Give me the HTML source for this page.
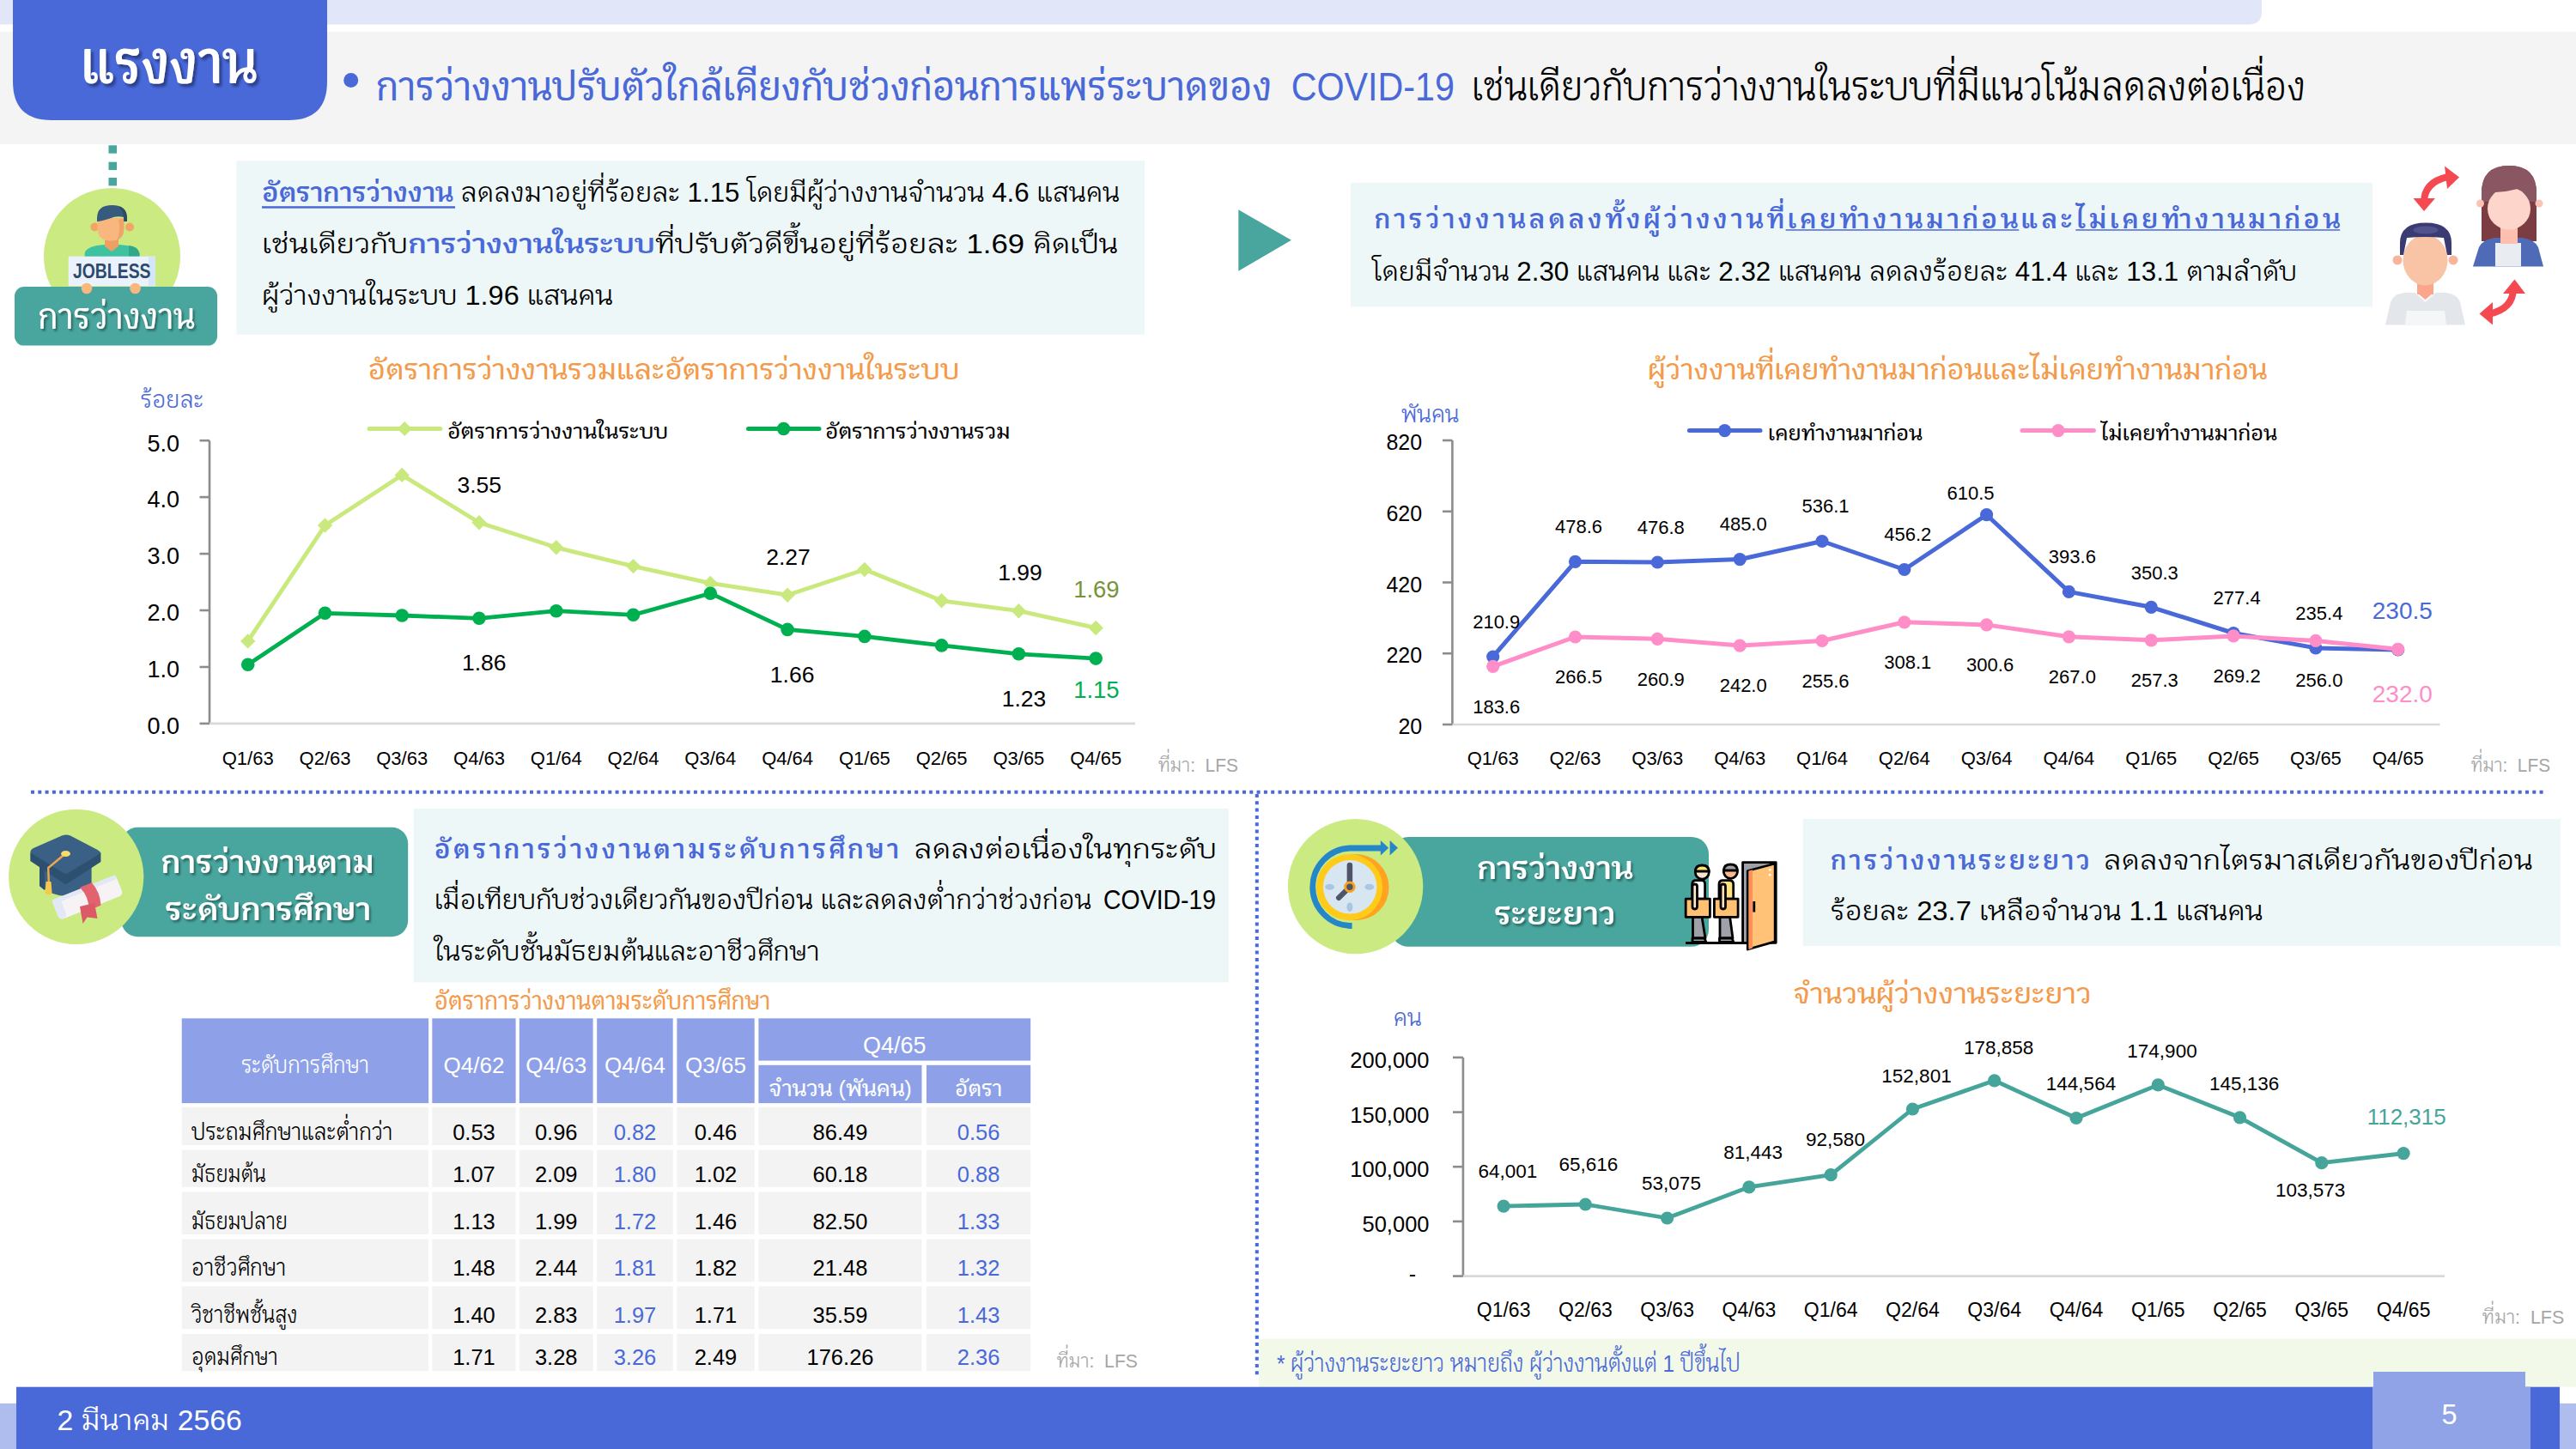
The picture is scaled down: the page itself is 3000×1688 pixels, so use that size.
<!DOCTYPE html>
<html lang="th"><head><meta charset="utf-8"><title>แรงงาน</title>
<style>
html,body{margin:0;padding:0;background:#fff;}
body{width:3000px;height:1688px;overflow:hidden;}
svg{display:block;font-family:'Liberation Sans','Krub',sans-serif;}
</style></head><body>
<svg width="3000" height="1688" viewBox="0 0 3000 1688">
<defs>
<filter id="sh" x="-10%" y="-30%" width="130%" height="160%"><feDropShadow dx="2" dy="2.5" stdDeviation="1.3" flood-color="#0E2F2C" flood-opacity="0.55"/></filter>
<filter id="shT" x="-10%" y="-30%" width="130%" height="160%"><feDropShadow dx="3" dy="3.5" stdDeviation="1.6" flood-color="#101C50" flood-opacity="0.6"/></filter>
</defs>
<rect width="3000" height="1688" fill="#fff"/>
<path d="M0 0 H2634 V13.6 Q2634 28.6 2619 28.6 H0 Z" fill="#E1E7F8"/>
<rect x="0.0" y="37.0" width="3000.0" height="131.0" fill="#F4F4F4" />
<path d="M15 0 H381 V95 Q381 140 336 140 H60 Q15 140 15 95 Z" fill="#4A69D9"/>
<text x="94.0" y="97.0" font-size="70" fill="#fff" textLength="205.0" lengthAdjust="spacingAndGlyphs" font-weight="600" filter="url(#shT)">แรงงาน</text>
<circle cx="408.7" cy="93.5" r="8.5" fill="#4A69D9" />
<text x="437.8" y="117.0" font-size="46" fill="#4A69D9" textLength="1043.2" lengthAdjust="spacingAndGlyphs" font-weight="500" >การว่างงานปรับตัวใกล้เคียงกับช่วงก่อนการแพร่ระบาดของ</text>
<text x="1503.7" y="117.0" font-size="45.5" fill="#4A69D9" textLength="190.3" lengthAdjust="spacingAndGlyphs" >COVID-19</text>
<text x="1713.7" y="117.0" font-size="46" fill="#000" textLength="971.3" lengthAdjust="spacingAndGlyphs" >เช่นเดียวกับการว่างงานในระบบที่มีแนวโน้มลดลงต่อเนื่อง</text>
<rect x="126.5" y="169.3" width="9.5" height="9.4" fill="#48A69E" />
<rect x="126.5" y="188.7" width="9.5" height="9.4" fill="#48A69E" />
<rect x="126.5" y="207.0" width="9.5" height="9.4" fill="#48A69E" />
<circle cx="130.5" cy="298.4" r="79.5" fill="#CBEB82" />
<rect x="275.4" y="187.3" width="1057.6" height="202.4" fill="#EEF7F8" />
<rect x="17.0" y="334.0" width="236.0" height="68.6" fill="#48A69E" rx="11" />
<text x="44.0" y="383.4" font-size="41.5" fill="#fff" textLength="183.0" lengthAdjust="spacingAndGlyphs" font-weight="500" filter="url(#sh)">การว่างงาน</text>
<g>
<path d="M98.7 300 L98.7 295 Q100 285 130.5 284.7 Q161 285 162.4 295 L162.4 300 Z" fill="#3EC2A0"/>
<path d="M150 286 Q161 287 162.4 295 L162.4 300 L150 300 Z" fill="#2FA98A"/>
<path d="M122 276 L138 276 L138 287 L130 293 L122 287 Z" fill="#EE9F63"/>
<circle cx="110.3" cy="264.5" r="5" fill="#F3A466"/>
<circle cx="151" cy="264.5" r="5" fill="#F3A466"/>
<path d="M113.4 254 L113.4 266 Q113.4 280.6 129 280.6 Q144.4 280.6 144.4 266 L144.4 254 Z" fill="#F7B77E"/>
<path d="M138 256 L144.4 254 L144.4 266 Q144.4 277 136 280 Q141 270 138 256 Z" fill="#EFA46C"/>
<path d="M113 258 L113 254 Q113 239 130.5 239 Q148 239 148 254 L148 258 L144.5 258 L144 253 Q136 251 128 254.5 Q120 257 114.5 258 Z" fill="#365B7C"/>
<path d="M139 240.5 Q148 244 148 254 L148 258 L144.5 258 L144 252 Q143 245 139 242 Z" fill="#2C4B68"/>
<rect x="79.8" y="298.7" width="100.9" height="34.5" fill="#EAF2FD"/>
<rect x="173" y="298.7" width="7.7" height="34.5" fill="#D6E6FA"/>
<circle cx="101" cy="336" r="6.3" fill="#F7B77E"/>
<circle cx="157.5" cy="336" r="6.3" fill="#F7B77E"/>
</g>
<text x="85.0" y="324.0" font-size="23" fill="#2E4A6B" textLength="90.5" lengthAdjust="spacingAndGlyphs" font-weight="700" >JOBLESS</text>
<text x="305.0" y="235.0" font-size="31" fill="#000" textLength="999.0" lengthAdjust="spacingAndGlyphs" ><tspan fill="#4A69D9" font-weight="600">อัตราการว่างงาน</tspan><tspan> ลดลงมาอยู่ที่ร้อยละ 1.15 โดยมีผู้ว่างงานจำนวน 4.6 แสนคน</tspan></text>
<rect x="305.0" y="240.2" width="225.0" height="2.5" fill="#4A69D9" />
<text x="305.0" y="294.8" font-size="31" fill="#000" textLength="997.0" lengthAdjust="spacingAndGlyphs" >เช่นเดียวกับ<tspan fill="#4A69D9" font-weight="600">การว่างงานในระบบ</tspan>ที่ปรับตัวดีขึ้นอยู่ที่ร้อยละ 1.69 คิดเป็น</text>
<text x="305.0" y="355.0" font-size="31" fill="#000" textLength="409.0" lengthAdjust="spacingAndGlyphs" >ผู้ว่างงานในระบบ 1.96 แสนคน</text>
<path d="M1442.3 244.3 L1503.9 279.7 L1442.3 315.8 Z" fill="#48A69E"/>
<rect x="1573.0" y="212.7" width="1190.0" height="144.6" fill="#EEF7F8" />
<text x="1600.5" y="265.7" font-size="30" fill="#4A69D9" textLength="1124.5" lengthAdjust="spacing" font-weight="600" >การว่างงานลดลงทั้งผู้ว่างงานที่เคยทำงานมาก่อนและไม่เคยทำงานมาก่อน</text>
<rect x="2079.6" y="267.2" width="271.7" height="1.5" fill="#4A69D9" />
<rect x="2417.3" y="267.2" width="307.9" height="1.5" fill="#4A69D9" />
<text x="1598.6" y="326.8" font-size="31" fill="#000" textLength="1076.4" lengthAdjust="spacingAndGlyphs" >โดยมีจำนวน 2.30 แสนคน และ 2.32 แสนคน ลดลงร้อยละ 41.4 และ 13.1 ตามลำดับ</text>
<g>
<path d="M2778 378.5 L2784 352 Q2787 343 2800 341 L2849 341 Q2862 343 2865 352 L2871 378.5 Z" fill="#E3E7EC"/>
<path d="M2801 378.5 L2803 362 L2847 362 L2849 378.5 Z" fill="#F4F6F8"/>
<path d="M2812 341 L2824.5 352 L2837 341 Z" fill="#F7F8FA"/>
<rect x="2815" y="326" width="19" height="17" fill="#FBA68C"/>
<path d="M2815 341 L2824.5 349 L2834 341 Z" fill="#FBA68C"/>
<circle cx="2792" cy="303" r="5.5" fill="#F9B49C"/>
<circle cx="2857" cy="303" r="5.5" fill="#F9B49C"/>
<ellipse cx="2824.5" cy="303" rx="26" ry="29.5" fill="#F9C3A6"/>
<path d="M2795 297 L2795 283 Q2795 259.4 2825 259.4 Q2855 259.4 2855 283 L2855 297 L2850 297 L2846 277 Q2824.5 275 2803 277 L2799 297 Z" fill="#3B3B73"/>
<ellipse cx="2825" cy="268" rx="14.5" ry="4.5" fill="#52528C"/>
<path d="M2890 281 L2890 225 Q2890 193 2922 193 Q2954 193 2954 225 L2954 281 Z" fill="#7B3C42"/>
<path d="M2890 235 L2890 225 Q2890 193 2922 193 Q2954 193 2954 225 L2954 235 Z" fill="#8A5661"/>
<path d="M2880 310.4 L2887 288 Q2890 280 2905 277 L2938 277 Q2953 280 2956 288 L2962 310.4 Z" fill="#4F6BB8"/>
<path d="M2906 310.4 L2906 283 L2936 283 L2936 310.4 Z" fill="#E9EDF1"/>
<rect x="2912" y="262" width="20" height="22" fill="#FDBFB0"/>
<circle cx="2888.5" cy="237" r="4.5" fill="#FCC3B5"/>
<circle cx="2957" cy="237" r="4.5" fill="#FCC3B5"/>
<ellipse cx="2922" cy="243" rx="25" ry="24.5" fill="#FDD5CA"/>
<path d="M2895 225 Q2896 200 2922 199 Q2948 200 2950 222 L2945 218 Q2930 220 2918 223 Q2905 224 2895 225 Z" fill="#8A5661"/>
<g fill="none" stroke="#F54952" stroke-width="8" stroke-linecap="round">
<path d="M2823 236 Q2823 212 2851 206"/>
<path d="M2927 336 Q2927 360 2898 366"/>
</g>
<path d="M2810.5 231 L2836 231 L2823 246 Z" fill="#F54952"/>
<path d="M2847 193.5 L2864 206.5 L2850 220 Z" fill="#F54952"/>
<path d="M2915 342 L2941 342 L2928.5 325.5 Z" fill="#F54952"/>
<path d="M2903 352 L2887.5 365.5 L2903 378.5 Z" fill="#F54952"/>
</g>
<text x="428.5" y="441.6" font-size="32" fill="#F39A4B" textLength="689.0" lengthAdjust="spacingAndGlyphs" font-weight="500" >อัตราการว่างงานรวมและอัตราการว่างงานในระบบ</text>
<text x="163.5" y="475.0" font-size="27" fill="#4A69D9" textLength="73.5" lengthAdjust="spacingAndGlyphs" >ร้อยละ</text>
<line x1="244" y1="513.2" x2="244" y2="842.9" stroke="#8C8C8C" stroke-width="2.6"/>
<line x1="244" y1="842.9" x2="1322" y2="842.9" stroke="#D9D9D9" stroke-width="2.6"/>
<line x1="232.5" y1="513.2" x2="244" y2="513.2" stroke="#8C8C8C" stroke-width="2.6"/>
<text x="209.0" y="525.5" font-size="27" fill="#000" text-anchor="end" >5.0</text>
<line x1="232.5" y1="579.1" x2="244" y2="579.1" stroke="#8C8C8C" stroke-width="2.6"/>
<text x="209.0" y="591.4" font-size="27" fill="#000" text-anchor="end" >4.0</text>
<line x1="232.5" y1="645.1" x2="244" y2="645.1" stroke="#8C8C8C" stroke-width="2.6"/>
<text x="209.0" y="657.4" font-size="27" fill="#000" text-anchor="end" >3.0</text>
<line x1="232.5" y1="711.0" x2="244" y2="711.0" stroke="#8C8C8C" stroke-width="2.6"/>
<text x="209.0" y="723.3" font-size="27" fill="#000" text-anchor="end" >2.0</text>
<line x1="232.5" y1="777.0" x2="244" y2="777.0" stroke="#8C8C8C" stroke-width="2.6"/>
<text x="209.0" y="789.3" font-size="27" fill="#000" text-anchor="end" >1.0</text>
<line x1="232.5" y1="842.9" x2="244" y2="842.9" stroke="#8C8C8C" stroke-width="2.6"/>
<text x="209.0" y="855.2" font-size="27" fill="#000" text-anchor="end" >0.0</text>
<text x="288.7" y="891.0" font-size="22" fill="#000" text-anchor="middle" >Q1/63</text>
<text x="378.5" y="891.0" font-size="22" fill="#000" text-anchor="middle" >Q2/63</text>
<text x="468.2" y="891.0" font-size="22" fill="#000" text-anchor="middle" >Q3/63</text>
<text x="558.0" y="891.0" font-size="22" fill="#000" text-anchor="middle" >Q4/63</text>
<text x="647.8" y="891.0" font-size="22" fill="#000" text-anchor="middle" >Q1/64</text>
<text x="737.5" y="891.0" font-size="22" fill="#000" text-anchor="middle" >Q2/64</text>
<text x="827.3" y="891.0" font-size="22" fill="#000" text-anchor="middle" >Q3/64</text>
<text x="917.1" y="891.0" font-size="22" fill="#000" text-anchor="middle" >Q4/64</text>
<text x="1006.9" y="891.0" font-size="22" fill="#000" text-anchor="middle" >Q1/65</text>
<text x="1096.6" y="891.0" font-size="22" fill="#000" text-anchor="middle" >Q2/65</text>
<text x="1186.4" y="891.0" font-size="22" fill="#000" text-anchor="middle" >Q3/65</text>
<text x="1276.2" y="891.0" font-size="22" fill="#000" text-anchor="middle" >Q4/65</text>
<polyline points="288.7,746.9 378.5,612.1 468.2,553.4 558.0,608.8 647.8,637.8 737.5,659.6 827.3,679.4 917.1,693.2 1006.9,663.5 1096.6,699.8 1186.4,711.7 1276.2,731.5" fill="none" stroke="#C9E97C" stroke-width="4.8" stroke-linejoin="round"/>
<path d="M288.7 738.2 L297.4 746.9 L288.7 755.6 L280.0 746.9 Z" fill="#C9E97C"/>
<path d="M378.5 603.4 L387.2 612.1 L378.5 620.8 L369.8 612.1 Z" fill="#C9E97C"/>
<path d="M468.2 544.7 L476.9 553.4 L468.2 562.1 L459.5 553.4 Z" fill="#C9E97C"/>
<path d="M558.0 600.1 L566.7 608.8 L558.0 617.5 L549.3 608.8 Z" fill="#C9E97C"/>
<path d="M647.8 629.1 L656.5 637.8 L647.8 646.5 L639.1 637.8 Z" fill="#C9E97C"/>
<path d="M737.5 650.9 L746.2 659.6 L737.5 668.3 L728.8 659.6 Z" fill="#C9E97C"/>
<path d="M827.3 670.7 L836.0 679.4 L827.3 688.1 L818.6 679.4 Z" fill="#C9E97C"/>
<path d="M917.1 684.5 L925.8 693.2 L917.1 701.9 L908.4 693.2 Z" fill="#C9E97C"/>
<path d="M1006.9 654.8 L1015.6 663.5 L1006.9 672.2 L998.2 663.5 Z" fill="#C9E97C"/>
<path d="M1096.6 691.1 L1105.3 699.8 L1096.6 708.5 L1087.9 699.8 Z" fill="#C9E97C"/>
<path d="M1186.4 703.0 L1195.1 711.7 L1186.4 720.4 L1177.7 711.7 Z" fill="#C9E97C"/>
<path d="M1276.2 722.8 L1284.9 731.5 L1276.2 740.2 L1267.5 731.5 Z" fill="#C9E97C"/>
<polyline points="288.7,774.3 378.5,714.3 468.2,717.0 558.0,720.3 647.8,711.7 737.5,716.3 827.3,691.2 917.1,733.4 1006.9,741.4 1096.6,751.9 1186.4,761.8 1276.2,767.1" fill="none" stroke="#00B050" stroke-width="4.8" stroke-linejoin="round"/>
<circle cx="288.7" cy="774.3" r="7.8" fill="#00B050" />
<circle cx="378.5" cy="714.3" r="7.8" fill="#00B050" />
<circle cx="468.2" cy="717.0" r="7.8" fill="#00B050" />
<circle cx="558.0" cy="720.3" r="7.8" fill="#00B050" />
<circle cx="647.8" cy="711.7" r="7.8" fill="#00B050" />
<circle cx="737.5" cy="716.3" r="7.8" fill="#00B050" />
<circle cx="827.3" cy="691.2" r="7.8" fill="#00B050" />
<circle cx="917.1" cy="733.4" r="7.8" fill="#00B050" />
<circle cx="1006.9" cy="741.4" r="7.8" fill="#00B050" />
<circle cx="1096.6" cy="751.9" r="7.8" fill="#00B050" />
<circle cx="1186.4" cy="761.8" r="7.8" fill="#00B050" />
<circle cx="1276.2" cy="767.1" r="7.8" fill="#00B050" />
<line x1="430" y1="499.5" x2="512.9" y2="499.5" stroke="#C9E97C" stroke-width="5" stroke-linecap="round"/>
<path d="M471.2 491 L479.7 499.5 L471.2 508 L462.7 499.5 Z" fill="#C9E97C"/>
<text x="521.0" y="510.6" font-size="24" fill="#000" textLength="257.0" lengthAdjust="spacingAndGlyphs" font-weight="500" >อัตราการว่างงานในระบบ</text>
<line x1="871.5" y1="499.5" x2="954" y2="499.5" stroke="#00B050" stroke-width="5" stroke-linecap="round"/>
<circle cx="912.6" cy="499.5" r="7.8" fill="#00B050" />
<text x="961.0" y="510.6" font-size="24" fill="#000" textLength="215.5" lengthAdjust="spacingAndGlyphs" font-weight="500" >อัตราการว่างงานรวม</text>
<text x="558.3" y="574.0" font-size="26.5" fill="#000" text-anchor="middle" >3.55</text>
<text x="563.7" y="781.0" font-size="26.5" fill="#000" text-anchor="middle" >1.86</text>
<text x="918.0" y="657.6" font-size="26.5" fill="#000" text-anchor="middle" >2.27</text>
<text x="922.6" y="794.7" font-size="26.5" fill="#000" text-anchor="middle" >1.66</text>
<text x="1188.0" y="676.0" font-size="26.5" fill="#000" text-anchor="middle" >1.99</text>
<text x="1192.5" y="823.4" font-size="26.5" fill="#000" text-anchor="middle" >1.23</text>
<text x="1276.9" y="696.2" font-size="27.5" fill="#77933C" text-anchor="middle" >1.69</text>
<text x="1276.9" y="813.0" font-size="27.5" fill="#00B050" text-anchor="middle" >1.15</text>
<text x="1348.7" y="898.7" font-size="22.5" fill="#A6A6A6" textLength="93.3" lengthAdjust="spacingAndGlyphs" >ที่มา:&#160; LFS</text>
<text x="1919.0" y="441.6" font-size="32" fill="#F39A4B" textLength="721.5" lengthAdjust="spacingAndGlyphs" font-weight="500" >ผู้ว่างงานที่เคยทำงานมาก่อนและไม่เคยทำงานมาก่อน</text>
<text x="1631.8" y="491.5" font-size="27" fill="#4A69D9" textLength="67.5" lengthAdjust="spacingAndGlyphs" >พันคน</text>
<line x1="1691.4" y1="513" x2="1691.4" y2="844" stroke="#8C8C8C" stroke-width="2.6"/>
<line x1="1691.4" y1="844" x2="2841.5" y2="844" stroke="#D9D9D9" stroke-width="2.6"/>
<line x1="1680" y1="513.0" x2="1691.4" y2="513.0" stroke="#8C8C8C" stroke-width="2.6"/>
<text x="1656.2" y="524.0" font-size="25" fill="#000" text-anchor="end" >820</text>
<line x1="1680" y1="595.8" x2="1691.4" y2="595.8" stroke="#8C8C8C" stroke-width="2.6"/>
<text x="1656.2" y="606.8" font-size="25" fill="#000" text-anchor="end" >620</text>
<line x1="1680" y1="678.5" x2="1691.4" y2="678.5" stroke="#8C8C8C" stroke-width="2.6"/>
<text x="1656.2" y="689.5" font-size="25" fill="#000" text-anchor="end" >420</text>
<line x1="1680" y1="761.2" x2="1691.4" y2="761.2" stroke="#8C8C8C" stroke-width="2.6"/>
<text x="1656.2" y="772.2" font-size="25" fill="#000" text-anchor="end" >220</text>
<line x1="1680" y1="844.0" x2="1691.4" y2="844.0" stroke="#8C8C8C" stroke-width="2.6"/>
<text x="1656.2" y="855.0" font-size="25" fill="#000" text-anchor="end" >20</text>
<text x="1738.7" y="890.5" font-size="22" fill="#000" text-anchor="middle" >Q1/63</text>
<text x="1834.5" y="890.5" font-size="22" fill="#000" text-anchor="middle" >Q2/63</text>
<text x="1930.3" y="890.5" font-size="22" fill="#000" text-anchor="middle" >Q3/63</text>
<text x="2026.2" y="890.5" font-size="22" fill="#000" text-anchor="middle" >Q4/63</text>
<text x="2122.0" y="890.5" font-size="22" fill="#000" text-anchor="middle" >Q1/64</text>
<text x="2217.8" y="890.5" font-size="22" fill="#000" text-anchor="middle" >Q2/64</text>
<text x="2313.6" y="890.5" font-size="22" fill="#000" text-anchor="middle" >Q3/64</text>
<text x="2409.4" y="890.5" font-size="22" fill="#000" text-anchor="middle" >Q4/64</text>
<text x="2505.3" y="890.5" font-size="22" fill="#000" text-anchor="middle" >Q1/65</text>
<text x="2601.1" y="890.5" font-size="22" fill="#000" text-anchor="middle" >Q2/65</text>
<text x="2696.9" y="890.5" font-size="22" fill="#000" text-anchor="middle" >Q3/65</text>
<text x="2792.7" y="890.5" font-size="22" fill="#000" text-anchor="middle" >Q4/65</text>
<polyline points="1738.7,765.0 1834.5,654.3 1930.3,655.0 2026.2,651.6 2122.0,630.5 2217.8,663.5 2313.6,599.7 2409.4,689.4 2505.3,707.3 2601.1,737.5 2696.9,754.9 2792.7,756.9" fill="none" stroke="#4A69D9" stroke-width="5" stroke-linejoin="round"/>
<circle cx="1738.7" cy="765.0" r="7.6" fill="#4A69D9" />
<circle cx="1834.5" cy="654.3" r="7.6" fill="#4A69D9" />
<circle cx="1930.3" cy="655.0" r="7.6" fill="#4A69D9" />
<circle cx="2026.2" cy="651.6" r="7.6" fill="#4A69D9" />
<circle cx="2122.0" cy="630.5" r="7.6" fill="#4A69D9" />
<circle cx="2217.8" cy="663.5" r="7.6" fill="#4A69D9" />
<circle cx="2313.6" cy="599.7" r="7.6" fill="#4A69D9" />
<circle cx="2409.4" cy="689.4" r="7.6" fill="#4A69D9" />
<circle cx="2505.3" cy="707.3" r="7.6" fill="#4A69D9" />
<circle cx="2601.1" cy="737.5" r="7.6" fill="#4A69D9" />
<circle cx="2696.9" cy="754.9" r="7.6" fill="#4A69D9" />
<circle cx="2792.7" cy="756.9" r="7.6" fill="#4A69D9" />
<polyline points="1738.7,776.3 1834.5,742.0 1930.3,744.3 2026.2,752.1 2122.0,746.5 2217.8,724.8 2313.6,727.9 2409.4,741.8 2505.3,745.8 2601.1,740.9 2696.9,746.4 2792.7,756.3" fill="none" stroke="#FF8DC8" stroke-width="5" stroke-linejoin="round"/>
<circle cx="1738.7" cy="776.3" r="7.6" fill="#FF8DC8" />
<circle cx="1834.5" cy="742.0" r="7.6" fill="#FF8DC8" />
<circle cx="1930.3" cy="744.3" r="7.6" fill="#FF8DC8" />
<circle cx="2026.2" cy="752.1" r="7.6" fill="#FF8DC8" />
<circle cx="2122.0" cy="746.5" r="7.6" fill="#FF8DC8" />
<circle cx="2217.8" cy="724.8" r="7.6" fill="#FF8DC8" />
<circle cx="2313.6" cy="727.9" r="7.6" fill="#FF8DC8" />
<circle cx="2409.4" cy="741.8" r="7.6" fill="#FF8DC8" />
<circle cx="2505.3" cy="745.8" r="7.6" fill="#FF8DC8" />
<circle cx="2601.1" cy="740.9" r="7.6" fill="#FF8DC8" />
<circle cx="2696.9" cy="746.4" r="7.6" fill="#FF8DC8" />
<circle cx="2792.7" cy="756.3" r="7.6" fill="#FF8DC8" />
<line x1="1967.4" y1="501.6" x2="2050" y2="501.6" stroke="#4A69D9" stroke-width="5" stroke-linecap="round"/>
<circle cx="2008.6" cy="501.6" r="7.6" fill="#4A69D9" />
<text x="2059.0" y="512.5" font-size="24" fill="#000" textLength="180.0" lengthAdjust="spacingAndGlyphs" font-weight="500" >เคยทำงานมาก่อน</text>
<line x1="2355" y1="501.6" x2="2438.4" y2="501.6" stroke="#FF8DC8" stroke-width="5" stroke-linecap="round"/>
<circle cx="2397.0" cy="501.6" r="7.6" fill="#FF8DC8" />
<text x="2446.6" y="512.5" font-size="24" fill="#000" textLength="205.4" lengthAdjust="spacingAndGlyphs" font-weight="500" >ไม่เคยทำงานมาก่อน</text>
<text x="1742.7" y="732.0" font-size="22" fill="#000" text-anchor="middle" >210.9</text>
<text x="1838.5" y="620.7" font-size="22" fill="#000" text-anchor="middle" >478.6</text>
<text x="1934.3" y="621.8" font-size="22" fill="#000" text-anchor="middle" >476.8</text>
<text x="2030.2" y="617.5" font-size="22" fill="#000" text-anchor="middle" >485.0</text>
<text x="2126.0" y="596.7" font-size="22" fill="#000" text-anchor="middle" >536.1</text>
<text x="2221.8" y="629.7" font-size="22" fill="#000" text-anchor="middle" >456.2</text>
<text x="2295.0" y="582.3" font-size="22" fill="#000" text-anchor="middle" >610.5</text>
<text x="2413.4" y="655.6" font-size="22" fill="#000" text-anchor="middle" >393.6</text>
<text x="2509.3" y="674.6" font-size="22" fill="#000" text-anchor="middle" >350.3</text>
<text x="2605.1" y="704.0" font-size="22" fill="#000" text-anchor="middle" >277.4</text>
<text x="2700.9" y="722.0" font-size="22" fill="#000" text-anchor="middle" >235.4</text>
<text x="1742.7" y="830.7" font-size="22" fill="#000" text-anchor="middle" >183.6</text>
<text x="1838.5" y="796.0" font-size="22" fill="#000" text-anchor="middle" >266.5</text>
<text x="1934.3" y="799.0" font-size="22" fill="#000" text-anchor="middle" >260.9</text>
<text x="2030.2" y="805.6" font-size="22" fill="#000" text-anchor="middle" >242.0</text>
<text x="2126.0" y="801.0" font-size="22" fill="#000" text-anchor="middle" >255.6</text>
<text x="2221.8" y="778.7" font-size="22" fill="#000" text-anchor="middle" >308.1</text>
<text x="2317.6" y="782.3" font-size="22" fill="#000" text-anchor="middle" >300.6</text>
<text x="2413.4" y="796.0" font-size="22" fill="#000" text-anchor="middle" >267.0</text>
<text x="2509.3" y="799.5" font-size="22" fill="#000" text-anchor="middle" >257.3</text>
<text x="2605.1" y="794.8" font-size="22" fill="#000" text-anchor="middle" >269.2</text>
<text x="2700.9" y="800.2" font-size="22" fill="#000" text-anchor="middle" >256.0</text>
<text x="2797.8" y="721.0" font-size="28" fill="#4A69D9" text-anchor="middle" >230.5</text>
<text x="2797.8" y="818.3" font-size="28" fill="#FF8DC8" text-anchor="middle" >232.0</text>
<text x="2877.4" y="899.0" font-size="22.5" fill="#A6A6A6" textLength="92.6" lengthAdjust="spacingAndGlyphs" >ที่มา:&#160; LFS</text>
<line x1="36" y1="922.7" x2="2965" y2="922.7" stroke="#4A69D9" stroke-width="4" stroke-dasharray="4 4.3"/>
<line x1="1463.8" y1="925" x2="1463.8" y2="1602.5" stroke="#4A69D9" stroke-width="4" stroke-dasharray="4 4.3"/>
<rect x="141.3" y="963.7" width="333.9" height="127.5" fill="#48A69E" rx="19" />
<circle cx="88.7" cy="1021.4" r="78.6" fill="#CBEB82" />
<g>
<path d="M46 1006 L46 1032 Q60 1043 76.5 1044 Q95 1043 106.6 1036 L106.6 1006 Z" fill="#3A6185"/>
<path d="M46 1006 L46 1032 Q49 1035 52 1037 L52 1010 Z" fill="#2E5070"/>
<path d="M35.3 993.5 L35.3 1003 L76.5 1030.5 L117.4 1004 L117.4 993.7 Z" fill="#2E5070"/>
<path d="M35.3 993.2 Q35.3 990 39 988 L72 973.5 Q77 971.5 82 973.5 L113.5 990 Q117.4 992.5 117.4 994 L80 1016.5 Q76.5 1019 73 1016.5 Z" fill="#3A6185"/>
<path d="M75.5 995 L56.2 1011 L56.8 1028" fill="none" stroke="#EFA74A" stroke-width="2.4" stroke-linejoin="round"/>
<ellipse cx="76.5" cy="994.5" rx="5.4" ry="3.6" fill="#F6DC6A"/>
<path d="M53.5 1027 L59.5 1027 L60.5 1040 Q56.5 1045 52.5 1040 Z" fill="#F7C94A"/>
<g transform="rotate(-21.7 101.7 1045.7)">
<rect x="62" y="1033.2" width="80" height="25" rx="5" fill="#F7F3F5"/>
<rect x="62" y="1033.2" width="80" height="5" rx="2.5" fill="#E3E8F6"/>
<rect x="62" y="1033.2" width="10" height="25" rx="5" fill="#E3E8F6"/>
<path d="M98 1031.5 Q104 1045.7 98 1060 L113 1060 Q118 1045.7 113 1031.5 Z" fill="#E0636F"/>
</g>
<path d="M93 1056 L96.5 1076 L101.5 1068.5 L113.5 1070 L110 1052 Z" fill="#DC5A68"/>
</g>
<text x="187.3" y="1017.4" font-size="35" fill="#fff" textLength="248.5" lengthAdjust="spacingAndGlyphs" font-weight="600" filter="url(#sh)">การว่างงานตาม</text>
<text x="192.0" y="1071.8" font-size="35" fill="#fff" textLength="240.0" lengthAdjust="spacingAndGlyphs" font-weight="600" filter="url(#sh)">ระดับการศึกษา</text>
<rect x="481.6" y="942.0" width="949.2" height="202.4" fill="#EEF7F8" />
<text x="505.7" y="999.6" font-size="30" fill="#4A69D9" textLength="541.0" lengthAdjust="spacing" font-weight="600" >อัตราการว่างงานตามระดับการศึกษา</text>
<text x="1064.0" y="999.6" font-size="31" fill="#000" textLength="353.0" lengthAdjust="spacingAndGlyphs" >ลดลงต่อเนื่องในทุกระดับ</text>
<text x="505.7" y="1059.3" font-size="31" fill="#000" textLength="765.4" lengthAdjust="spacingAndGlyphs" >เมื่อเทียบกับช่วงเดียวกันของปีก่อน และลดลงต่ำกว่าช่วงก่อน</text>
<text x="1285.1" y="1059.3" font-size="31" fill="#000" textLength="131.0" lengthAdjust="spacingAndGlyphs" >COVID-19</text>
<text x="505.7" y="1118.8" font-size="31" fill="#000" textLength="448.8" lengthAdjust="spacingAndGlyphs" >ในระดับชั้นมัธยมต้นและอาชีวศึกษา</text>
<text x="505.7" y="1176.0" font-size="29" fill="#F39A4B" textLength="391.3" lengthAdjust="spacingAndGlyphs" font-weight="500" >อัตราการว่างงานตามระดับการศึกษา</text>
<rect x="211.7" y="1186.3" width="287.4" height="98.8" fill="#8EA1E8" />
<rect x="503.3" y="1186.3" width="97.3" height="98.8" fill="#8EA1E8" />
<rect x="604.8" y="1186.3" width="85.8" height="98.8" fill="#8EA1E8" />
<rect x="695.2" y="1186.3" width="88.5" height="98.8" fill="#8EA1E8" />
<rect x="788.4" y="1186.3" width="90.3" height="98.8" fill="#8EA1E8" />
<rect x="883.4" y="1186.3" width="316.8" height="49.3" fill="#8EA1E8" />
<rect x="883.4" y="1240.8" width="190.1" height="44.3" fill="#8EA1E8" />
<rect x="1079.0" y="1240.8" width="121.2" height="44.3" fill="#8EA1E8" />
<text x="355.4" y="1250.0" font-size="27" fill="#fff" textLength="149.0" lengthAdjust="spacingAndGlyphs" text-anchor="middle" >ระดับการศึกษา</text>
<text x="552.0" y="1250.0" font-size="26" fill="#fff" text-anchor="middle" >Q4/62</text>
<text x="647.7" y="1250.0" font-size="26" fill="#fff" text-anchor="middle" >Q4/63</text>
<text x="739.5" y="1250.0" font-size="26" fill="#fff" text-anchor="middle" >Q4/64</text>
<text x="833.5" y="1250.0" font-size="26" fill="#fff" text-anchor="middle" >Q3/65</text>
<text x="1041.8" y="1226.9" font-size="27" fill="#fff" text-anchor="middle" >Q4/65</text>
<text x="978.5" y="1276.7" font-size="26" fill="#fff" textLength="166.8" lengthAdjust="spacingAndGlyphs" text-anchor="middle" font-weight="500" >จำนวน (พันคน)</text>
<text x="1139.6" y="1276.7" font-size="26" fill="#fff" textLength="55.0" lengthAdjust="spacingAndGlyphs" text-anchor="middle" font-weight="500" >อัตรา</text>
<rect x="211.7" y="1289.7" width="287.4" height="44.3" fill="#F3F3F3" />
<rect x="503.3" y="1289.7" width="97.3" height="44.3" fill="#F3F3F3" />
<rect x="604.8" y="1289.7" width="85.8" height="44.3" fill="#F3F3F3" />
<rect x="695.2" y="1289.7" width="88.5" height="44.3" fill="#F3F3F3" />
<rect x="788.4" y="1289.7" width="90.3" height="44.3" fill="#F3F3F3" />
<rect x="883.4" y="1289.7" width="190.1" height="44.3" fill="#F3F3F3" />
<rect x="1079.0" y="1289.7" width="121.2" height="44.3" fill="#F3F3F3" />
<text x="222.9" y="1328.4" font-size="27" fill="#000" textLength="234.3" lengthAdjust="spacingAndGlyphs" >ประถมศึกษาและต่ำกว่า</text>
<text x="552.0" y="1328.4" font-size="25.5" fill="#000" text-anchor="middle" >0.53</text>
<text x="647.7" y="1328.4" font-size="25.5" fill="#000" text-anchor="middle" >0.96</text>
<text x="739.5" y="1328.4" font-size="25.5" fill="#4A69D9" text-anchor="middle" >0.82</text>
<text x="833.5" y="1328.4" font-size="25.5" fill="#000" text-anchor="middle" >0.46</text>
<text x="978.5" y="1328.4" font-size="25.5" fill="#000" text-anchor="middle" >86.49</text>
<text x="1139.6" y="1328.4" font-size="25.5" fill="#4A69D9" text-anchor="middle" >0.56</text>
<rect x="211.7" y="1339.6" width="287.4" height="43.3" fill="#F3F3F3" />
<rect x="503.3" y="1339.6" width="97.3" height="43.3" fill="#F3F3F3" />
<rect x="604.8" y="1339.6" width="85.8" height="43.3" fill="#F3F3F3" />
<rect x="695.2" y="1339.6" width="88.5" height="43.3" fill="#F3F3F3" />
<rect x="788.4" y="1339.6" width="90.3" height="43.3" fill="#F3F3F3" />
<rect x="883.4" y="1339.6" width="190.1" height="43.3" fill="#F3F3F3" />
<rect x="1079.0" y="1339.6" width="121.2" height="43.3" fill="#F3F3F3" />
<text x="222.9" y="1377.3" font-size="27" fill="#000" textLength="86.6" lengthAdjust="spacingAndGlyphs" >มัธยมต้น</text>
<text x="552.0" y="1377.3" font-size="25.5" fill="#000" text-anchor="middle" >1.07</text>
<text x="647.7" y="1377.3" font-size="25.5" fill="#000" text-anchor="middle" >2.09</text>
<text x="739.5" y="1377.3" font-size="25.5" fill="#4A69D9" text-anchor="middle" >1.80</text>
<text x="833.5" y="1377.3" font-size="25.5" fill="#000" text-anchor="middle" >1.02</text>
<text x="978.5" y="1377.3" font-size="25.5" fill="#000" text-anchor="middle" >60.18</text>
<text x="1139.6" y="1377.3" font-size="25.5" fill="#4A69D9" text-anchor="middle" >0.88</text>
<rect x="211.7" y="1388.5" width="287.4" height="49.4" fill="#F3F3F3" />
<rect x="503.3" y="1388.5" width="97.3" height="49.4" fill="#F3F3F3" />
<rect x="604.8" y="1388.5" width="85.8" height="49.4" fill="#F3F3F3" />
<rect x="695.2" y="1388.5" width="88.5" height="49.4" fill="#F3F3F3" />
<rect x="788.4" y="1388.5" width="90.3" height="49.4" fill="#F3F3F3" />
<rect x="883.4" y="1388.5" width="190.1" height="49.4" fill="#F3F3F3" />
<rect x="1079.0" y="1388.5" width="121.2" height="49.4" fill="#F3F3F3" />
<text x="222.9" y="1431.8" font-size="27" fill="#000" textLength="111.8" lengthAdjust="spacingAndGlyphs" >มัธยมปลาย</text>
<text x="552.0" y="1431.8" font-size="25.5" fill="#000" text-anchor="middle" >1.13</text>
<text x="647.7" y="1431.8" font-size="25.5" fill="#000" text-anchor="middle" >1.99</text>
<text x="739.5" y="1431.8" font-size="25.5" fill="#4A69D9" text-anchor="middle" >1.72</text>
<text x="833.5" y="1431.8" font-size="25.5" fill="#000" text-anchor="middle" >1.46</text>
<text x="978.5" y="1431.8" font-size="25.5" fill="#000" text-anchor="middle" >82.50</text>
<text x="1139.6" y="1431.8" font-size="25.5" fill="#4A69D9" text-anchor="middle" >1.33</text>
<rect x="211.7" y="1443.5" width="287.4" height="49.8" fill="#F3F3F3" />
<rect x="503.3" y="1443.5" width="97.3" height="49.8" fill="#F3F3F3" />
<rect x="604.8" y="1443.5" width="85.8" height="49.8" fill="#F3F3F3" />
<rect x="695.2" y="1443.5" width="88.5" height="49.8" fill="#F3F3F3" />
<rect x="788.4" y="1443.5" width="90.3" height="49.8" fill="#F3F3F3" />
<rect x="883.4" y="1443.5" width="190.1" height="49.8" fill="#F3F3F3" />
<rect x="1079.0" y="1443.5" width="121.2" height="49.8" fill="#F3F3F3" />
<text x="222.9" y="1486.3" font-size="27" fill="#000" textLength="110.0" lengthAdjust="spacingAndGlyphs" >อาชีวศึกษา</text>
<text x="552.0" y="1486.3" font-size="25.5" fill="#000" text-anchor="middle" >1.48</text>
<text x="647.7" y="1486.3" font-size="25.5" fill="#000" text-anchor="middle" >2.44</text>
<text x="739.5" y="1486.3" font-size="25.5" fill="#4A69D9" text-anchor="middle" >1.81</text>
<text x="833.5" y="1486.3" font-size="25.5" fill="#000" text-anchor="middle" >1.82</text>
<text x="978.5" y="1486.3" font-size="25.5" fill="#000" text-anchor="middle" >21.48</text>
<text x="1139.6" y="1486.3" font-size="25.5" fill="#4A69D9" text-anchor="middle" >1.32</text>
<rect x="211.7" y="1498.4" width="287.4" height="49.9" fill="#F3F3F3" />
<rect x="503.3" y="1498.4" width="97.3" height="49.9" fill="#F3F3F3" />
<rect x="604.8" y="1498.4" width="85.8" height="49.9" fill="#F3F3F3" />
<rect x="695.2" y="1498.4" width="88.5" height="49.9" fill="#F3F3F3" />
<rect x="788.4" y="1498.4" width="90.3" height="49.9" fill="#F3F3F3" />
<rect x="883.4" y="1498.4" width="190.1" height="49.9" fill="#F3F3F3" />
<rect x="1079.0" y="1498.4" width="121.2" height="49.9" fill="#F3F3F3" />
<text x="222.9" y="1541.3" font-size="27" fill="#000" textLength="123.4" lengthAdjust="spacingAndGlyphs" >วิชาชีพชั้นสูง</text>
<text x="552.0" y="1541.3" font-size="25.5" fill="#000" text-anchor="middle" >1.40</text>
<text x="647.7" y="1541.3" font-size="25.5" fill="#000" text-anchor="middle" >2.83</text>
<text x="739.5" y="1541.3" font-size="25.5" fill="#4A69D9" text-anchor="middle" >1.97</text>
<text x="833.5" y="1541.3" font-size="25.5" fill="#000" text-anchor="middle" >1.71</text>
<text x="978.5" y="1541.3" font-size="25.5" fill="#000" text-anchor="middle" >35.59</text>
<text x="1139.6" y="1541.3" font-size="25.5" fill="#4A69D9" text-anchor="middle" >1.43</text>
<rect x="211.7" y="1553.9" width="287.4" height="43.3" fill="#F3F3F3" />
<rect x="503.3" y="1553.9" width="97.3" height="43.3" fill="#F3F3F3" />
<rect x="604.8" y="1553.9" width="85.8" height="43.3" fill="#F3F3F3" />
<rect x="695.2" y="1553.9" width="88.5" height="43.3" fill="#F3F3F3" />
<rect x="788.4" y="1553.9" width="90.3" height="43.3" fill="#F3F3F3" />
<rect x="883.4" y="1553.9" width="190.1" height="43.3" fill="#F3F3F3" />
<rect x="1079.0" y="1553.9" width="121.2" height="43.3" fill="#F3F3F3" />
<text x="222.9" y="1590.2" font-size="27" fill="#000" textLength="100.6" lengthAdjust="spacingAndGlyphs" >อุดมศึกษา</text>
<text x="552.0" y="1590.2" font-size="25.5" fill="#000" text-anchor="middle" >1.71</text>
<text x="647.7" y="1590.2" font-size="25.5" fill="#000" text-anchor="middle" >3.28</text>
<text x="739.5" y="1590.2" font-size="25.5" fill="#4A69D9" text-anchor="middle" >3.26</text>
<text x="833.5" y="1590.2" font-size="25.5" fill="#000" text-anchor="middle" >2.49</text>
<text x="978.5" y="1590.2" font-size="25.5" fill="#000" text-anchor="middle" >176.26</text>
<text x="1139.6" y="1590.2" font-size="25.5" fill="#4A69D9" text-anchor="middle" >2.36</text>
<text x="1230.5" y="1592.5" font-size="22.5" fill="#A6A6A6" textLength="94.5" lengthAdjust="spacingAndGlyphs" >ที่มา:&#160; LFS</text>
<rect x="1620.0" y="974.9" width="370.0" height="127.9" fill="#48A69E" rx="20" />
<circle cx="1578.6" cy="1032.6" r="78.7" fill="#CBEB82" />
<g>
<path d="M1574.6 1078.5 L1571.9 1078.5 A45.3 45.3 0 0 1 1571.9 988 L1609 988" fill="none" stroke="#2687C8" stroke-width="6.8"/>
<path d="M1607.8 979 L1617.2 987.8 L1607.8 996.5 Z" fill="#2687C8"/>
<path d="M1618.6 979 L1628 987.8 L1618.6 996.5 Z" fill="#2687C8"/>
<circle cx="1579" cy="1033.7" r="38.6" fill="#FFA320"/>
<circle cx="1571.5" cy="1033.7" r="38.6" fill="#FFCB1A"/>
<circle cx="1572.2" cy="1033.3" r="31.3" fill="#D8E6F1"/>
<ellipse cx="1548.6" cy="1033.3" rx="5.4" ry="3.5" fill="#A9C6E2"/>
<ellipse cx="1594.8" cy="1033.3" rx="5.4" ry="3.5" fill="#A9C6E2"/>
<ellipse cx="1571.9" cy="1056.6" rx="3.5" ry="5.4" fill="#A9C6E2"/>
<line x1="1571.9" y1="1033.3" x2="1571.9" y2="1008" stroke="#50546A" stroke-width="6.5" stroke-linecap="round"/>
<line x1="1571.9" y1="1033.3" x2="1559" y2="1046" stroke="#50546A" stroke-width="6" stroke-linecap="round"/>
<circle cx="1571.9" cy="1033.3" r="5.2" fill="#50546A" stroke="#F7A21B" stroke-width="3"/>
</g>
<text x="1719.9" y="1023.9" font-size="36" fill="#fff" textLength="181.7" lengthAdjust="spacingAndGlyphs" font-weight="600" filter="url(#sh)">การว่างงาน</text>
<text x="1740.0" y="1077.1" font-size="36" fill="#fff" textLength="141.4" lengthAdjust="spacingAndGlyphs" font-weight="600" filter="url(#sh)">ระยะยาว</text>
<g stroke="#000" stroke-width="2.8" stroke-linejoin="round">
<rect x="2029.6" y="1004.7" width="38.6" height="93.6" fill="#A0A0A8"/>
<path d="M2035.3 1014.5 L2067.2 1006 L2067.2 1096.8 L2035.3 1106 Z" fill="#FFC277"/>
<path d="M2036.5 1014.5 L2041 1013.2 L2041 1104.6 L2036.5 1106 Z" fill="#FF8F57" stroke="none"/>
<line x1="2042.8" y1="1050" x2="2042.8" y2="1062.5"/>
<rect x="2060" y="1012" width="2.5" height="2.5" fill="#fff" stroke="none"/>
<rect x="2060" y="1018" width="2.5" height="2.5" fill="#fff" stroke="none"/>
<path d="M1971.5 1068 L1971.5 1093 L1986 1093 L1982 1068 Z" fill="#A0A0A8"/>
<path d="M1971 1093 L1971 1097.5 L1987 1097.5 L1985 1093 Z" fill="#A0A0A8"/>
<path d="M1970.7 1047.2 L1970.7 1030 Q1970.7 1025.6 1975 1025.6 L1982 1025.6 Q1985.6 1025.6 1985.6 1030 L1985.6 1047.2 Z" fill="#FFFFFF"/>
<rect x="1963.2" y="1047.2" width="28.2" height="21.1" fill="#FFC072"/>
<rect x="1971" y="1030" width="5.5" height="29" rx="2.7" fill="#FFE8CF"/>
<circle cx="1982.3" cy="1016.1" r="8" fill="#FCE3CF"/>
<path d="M1974.3 1015 Q1974.5 1008 1982.3 1008 Q1990 1008 1990.3 1015 Z" fill="#FFE074"/>
<path d="M2003 1068 L2003 1093 L2018 1093 L2014.6 1068 Z" fill="#A0A0A8"/>
<path d="M2002.5 1093 L2002.5 1097.5 L2019 1097.5 L2017 1093 Z" fill="#A0A0A8"/>
<path d="M2002 1047.2 L2002 1030 Q2002 1025.6 2006.5 1025.6 L2014 1025.6 Q2018.7 1025.6 2018.7 1030 L2018.7 1047.2 Z" fill="#FFE17D"/>
<rect x="1996.4" y="1047.2" width="27.7" height="21.1" fill="#FFC072"/>
<rect x="2004" y="1030" width="5.5" height="29" rx="2.7" fill="#FFE0B8"/>
<circle cx="2015.4" cy="1015.3" r="8" fill="#FFB98A"/>
<path d="M2007.4 1014 Q2007.6 1007 2015.4 1007 Q2023.2 1007 2023.4 1014 Z" fill="#A0A0A8"/>
<line x1="1963" y1="1098.5" x2="2034.5" y2="1098.5"/>
</g>
<rect x="2099.6" y="953.9" width="882.2" height="148.1" fill="#EEF7F8" />
<text x="2131.8" y="1012.9" font-size="30" fill="#4A69D9" textLength="301.8" lengthAdjust="spacing" font-weight="600" >การว่างงานระยะยาว</text>
<text x="2449.6" y="1012.9" font-size="31" fill="#000" textLength="500.0" lengthAdjust="spacingAndGlyphs" >ลดลงจากไตรมาสเดียวกันของปีก่อน</text>
<text x="2131.8" y="1072.1" font-size="31" fill="#000" textLength="503.6" lengthAdjust="spacingAndGlyphs" >ร้อยละ 23.7 เหลือจำนวน 1.1 แสนคน</text>
<text x="2087.9" y="1168.6" font-size="32" fill="#F39A4B" textLength="347.5" lengthAdjust="spacingAndGlyphs" font-weight="500" >จำนวนผู้ว่างงานระยะยาว</text>
<text x="1622.6" y="1194.8" font-size="27" fill="#4A69D9" textLength="33.0" lengthAdjust="spacingAndGlyphs" >คน</text>
<line x1="1703.9" y1="1231.9" x2="1703.9" y2="1486.6" stroke="#8C8C8C" stroke-width="2.6"/>
<line x1="1703.9" y1="1486.6" x2="2847" y2="1486.6" stroke="#D9D9D9" stroke-width="2.6"/>
<line x1="1692" y1="1231.9" x2="1703.9" y2="1231.9" stroke="#8C8C8C" stroke-width="2.6"/>
<text x="1664.5" y="1243.9" font-size="25.5" fill="#000" text-anchor="end" >200,000</text>
<line x1="1692" y1="1295.6" x2="1703.9" y2="1295.6" stroke="#8C8C8C" stroke-width="2.6"/>
<text x="1664.5" y="1307.6" font-size="25.5" fill="#000" text-anchor="end" >150,000</text>
<line x1="1692" y1="1359.2" x2="1703.9" y2="1359.2" stroke="#8C8C8C" stroke-width="2.6"/>
<text x="1664.5" y="1371.2" font-size="25.5" fill="#000" text-anchor="end" >100,000</text>
<line x1="1692" y1="1422.9" x2="1703.9" y2="1422.9" stroke="#8C8C8C" stroke-width="2.6"/>
<text x="1664.5" y="1434.9" font-size="25.5" fill="#000" text-anchor="end" >50,000</text>
<text x="1751.1" y="1534.0" font-size="23" fill="#000" text-anchor="middle" >Q1/63</text>
<text x="1846.4" y="1534.0" font-size="23" fill="#000" text-anchor="middle" >Q2/63</text>
<text x="1941.6" y="1534.0" font-size="23" fill="#000" text-anchor="middle" >Q3/63</text>
<text x="2036.9" y="1534.0" font-size="23" fill="#000" text-anchor="middle" >Q4/63</text>
<text x="2132.2" y="1534.0" font-size="23" fill="#000" text-anchor="middle" >Q1/64</text>
<text x="2227.4" y="1534.0" font-size="23" fill="#000" text-anchor="middle" >Q2/64</text>
<text x="2322.7" y="1534.0" font-size="23" fill="#000" text-anchor="middle" >Q3/64</text>
<text x="2418.0" y="1534.0" font-size="23" fill="#000" text-anchor="middle" >Q4/64</text>
<text x="2513.3" y="1534.0" font-size="23" fill="#000" text-anchor="middle" >Q1/65</text>
<text x="2608.5" y="1534.0" font-size="23" fill="#000" text-anchor="middle" >Q2/65</text>
<text x="2703.8" y="1534.0" font-size="23" fill="#000" text-anchor="middle" >Q3/65</text>
<text x="2799.1" y="1534.0" font-size="23" fill="#000" text-anchor="middle" >Q4/65</text>
<line x1="1692" y1="1486.6" x2="1703.9" y2="1486.6" stroke="#8C8C8C" stroke-width="2.6"/>
<text x="1645.0" y="1493.0" font-size="25" fill="#000" text-anchor="middle" >-</text>
<polyline points="1751.1,1405.1 1846.4,1403.0 1941.6,1419.0 2036.9,1382.9 2132.2,1368.7 2227.4,1292.0 2322.7,1258.8 2418.0,1302.5 2513.3,1263.9 2608.5,1301.8 2703.8,1354.7 2799.1,1343.6" fill="none" stroke="#45A59A" stroke-width="4.8" stroke-linejoin="round"/>
<circle cx="1751.1" cy="1405.1" r="7.6" fill="#45A59A" />
<circle cx="1846.4" cy="1403.0" r="7.6" fill="#45A59A" />
<circle cx="1941.6" cy="1419.0" r="7.6" fill="#45A59A" />
<circle cx="2036.9" cy="1382.9" r="7.6" fill="#45A59A" />
<circle cx="2132.2" cy="1368.7" r="7.6" fill="#45A59A" />
<circle cx="2227.4" cy="1292.0" r="7.6" fill="#45A59A" />
<circle cx="2322.7" cy="1258.8" r="7.6" fill="#45A59A" />
<circle cx="2418.0" cy="1302.5" r="7.6" fill="#45A59A" />
<circle cx="2513.3" cy="1263.9" r="7.6" fill="#45A59A" />
<circle cx="2608.5" cy="1301.8" r="7.6" fill="#45A59A" />
<circle cx="2703.8" cy="1354.7" r="7.6" fill="#45A59A" />
<circle cx="2799.1" cy="1343.6" r="7.6" fill="#45A59A" />
<text x="1755.9" y="1372.4" font-size="22.5" fill="#000" text-anchor="middle" >64,001</text>
<text x="1849.8" y="1364.0" font-size="22.5" fill="#000" text-anchor="middle" >65,616</text>
<text x="1946.5" y="1386.1" font-size="22.5" fill="#000" text-anchor="middle" >53,075</text>
<text x="2041.7" y="1350.3" font-size="22.5" fill="#000" text-anchor="middle" >81,443</text>
<text x="2137.5" y="1335.3" font-size="22.5" fill="#000" text-anchor="middle" >92,580</text>
<text x="2232.0" y="1260.6" font-size="22.5" fill="#000" text-anchor="middle" >152,801</text>
<text x="2327.7" y="1227.7" font-size="22.5" fill="#000" text-anchor="middle" >178,858</text>
<text x="2423.5" y="1269.6" font-size="22.5" fill="#000" text-anchor="middle" >144,564</text>
<text x="2518.0" y="1231.9" font-size="22.5" fill="#000" text-anchor="middle" >174,900</text>
<text x="2613.6" y="1269.6" font-size="22.5" fill="#000" text-anchor="middle" >145,136</text>
<text x="2690.6" y="1393.9" font-size="22.5" fill="#000" text-anchor="middle" >103,573</text>
<text x="2802.7" y="1310.2" font-size="26" fill="#45A59A" text-anchor="middle" >112,315</text>
<text x="2890.6" y="1541.6" font-size="22.5" fill="#A6A6A6" textLength="95.7" lengthAdjust="spacingAndGlyphs" >ที่มา:&#160; LFS</text>
<rect x="1466.0" y="1559.5" width="1534.0" height="56.2" fill="#F3F9E9" />
<text x="1486.9" y="1598.4" font-size="28" fill="#4A69D9" textLength="539.8" lengthAdjust="spacingAndGlyphs" >* ผู้ว่างงานระยะยาว หมายถึง ผู้ว่างงานตั้งแต่ 1 ปีขึ้นไป</text>
<rect x="0.0" y="1634.9" width="19.0" height="53.1" fill="#AFBDEE" />
<rect x="2981.0" y="1634.9" width="19.0" height="53.1" fill="#AFBDEE" />
<rect x="19.0" y="1615.7" width="2962.0" height="72.3" fill="#4A69D9" />
<rect x="2764.0" y="1598.0" width="177.0" height="22.0" fill="#8FA3E6" />
<rect x="2763.0" y="1615.7" width="184.0" height="72.3" fill="#8FA3E6" />
<text x="66.4" y="1665.8" font-size="32.5" fill="#fff" textLength="215.4" lengthAdjust="spacingAndGlyphs" >2 มีนาคม 2566</text>
<text x="2852.6" y="1659.4" font-size="32.5" fill="#fff" text-anchor="middle" >5</text>
</svg>
</body></html>
